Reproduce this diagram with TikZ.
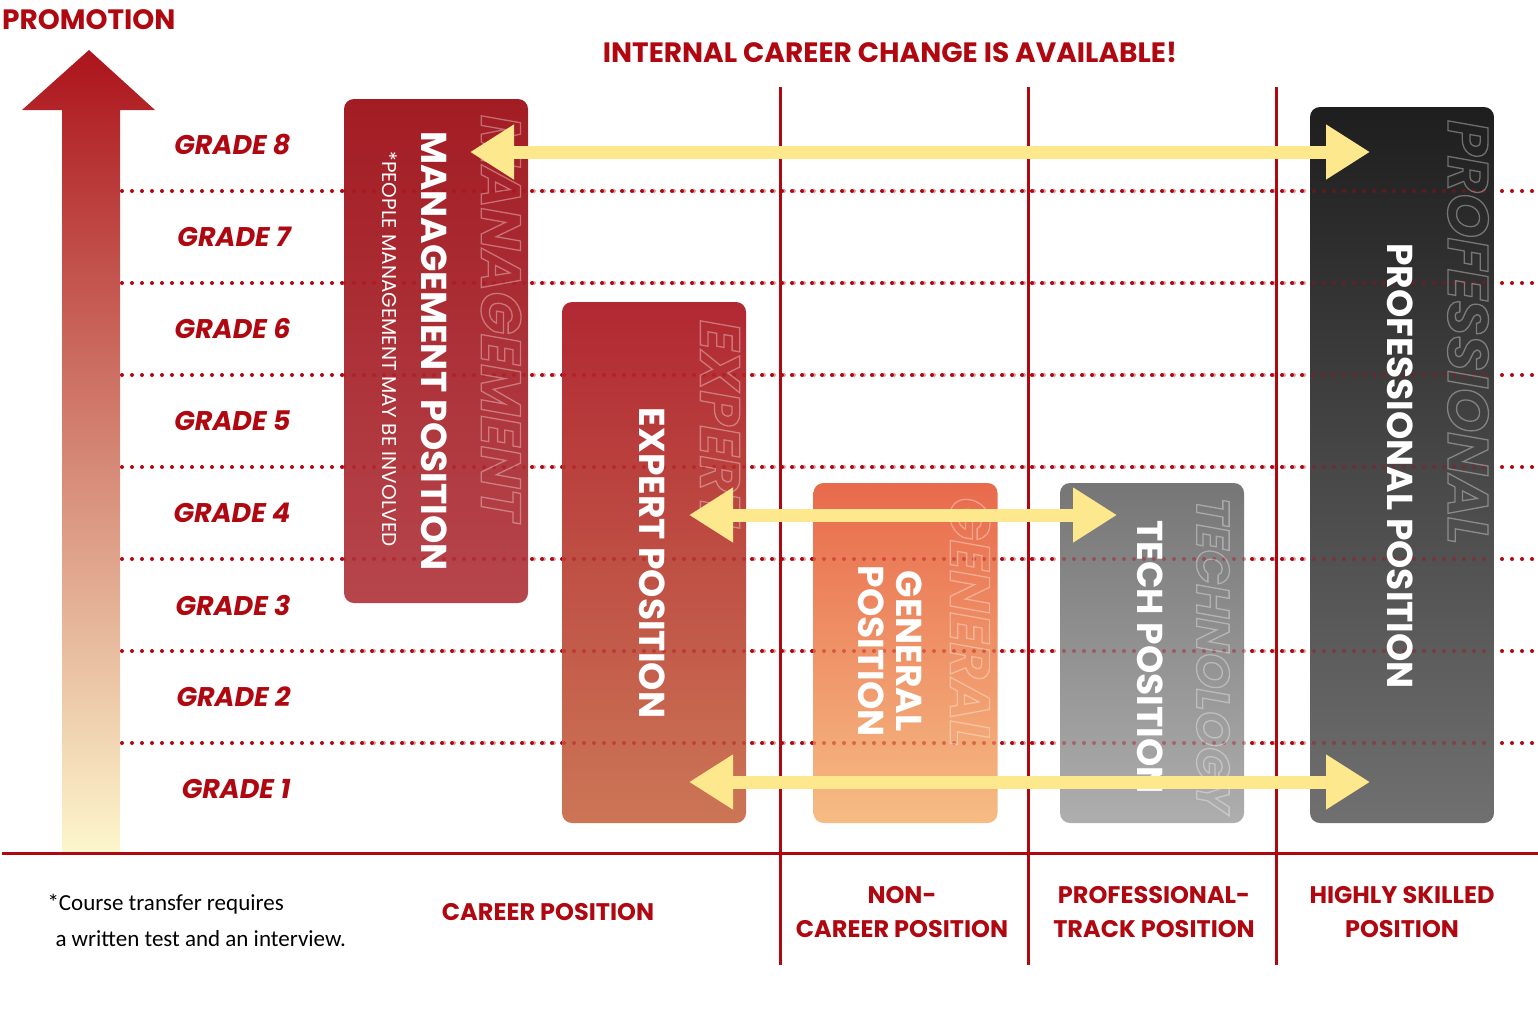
\documentclass[tikz,border=0pt]{standalone}
\usepackage{fontspec}
\setmainfont{Poppins}
\newfontfamily\notefont{Carlito}
\usetikzlibrary{arrows.meta, positioning}

\definecolor{gradered}{RGB}{176, 8, 16}
\definecolor{arrowyellow}{RGB}{253, 232, 142}
\definecolor{promotop}{RGB}{172, 20, 28}
\definecolor{promobot}{RGB}{253, 246, 204}
\definecolor{mgmttop}{RGB}{163, 28, 36}
\definecolor{mgmtbot}{RGB}{182, 70, 76}
\definecolor{experttop}{RGB}{177, 40, 50}
\definecolor{expertbot}{RGB}{204, 118, 86}
\definecolor{generaltop}{RGB}{232, 106, 76}
\definecolor{generalbot}{RGB}{246, 188, 132}
\definecolor{techtop}{RGB}{118, 118, 118}
\definecolor{techbot}{RGB}{174, 174, 174}
\definecolor{proftop}{RGB}{30, 30, 30}
\definecolor{profbot}{RGB}{112, 112, 112}

% hollow letters for the background words
\newcommand{\hollow}[1]{\special{pdf:literal direct 1 Tr 1.3 w}#1\special{pdf:literal direct 0 Tr}}

\begin{document}
\begin{tikzpicture}[x=1pt, y=-1pt,
  posbox/.style={rounded corners=10pt, minimum width=184pt, inner sep=0pt},
  postitle/.style={rotate=-90, text=white, align=center, font=\fontsize{36}{38}\selectfont\bfseries},
  ghost/.style={rotate=-90, anchor=west, inner sep=0pt, text=white, font=\fontsize{56}{60}\selectfont\bfseries\itshape},
  gradelabel/.style={anchor=east, text=gradered, font=\fontsize{27}{30}\selectfont\bfseries\itshape},
  tracklabel/.style={text=gradered, align=center, font=\fontsize{24}{34}\selectfont\bfseries},
  trackline/.style={draw=gradered, line width=3pt},
  gridrow/.style={draw=gradered, line width=4pt, line cap=round, dash pattern=on 0pt off 10pt},
  careerarrow/.style={draw=arrowyellow, line width=13pt, {Triangle[length=44pt,width=52pt]}-{Triangle[length=44pt,width=52pt]}}
]
  \useasboundingbox (0,0) rectangle (1538,1028);

  % Promotion arrow
  \shade[top color=promotop, bottom color=promobot] (62,852) -- (62,110) -- (22,110) -- (89,50) -- (155,110) -- (120,110) -- (120,852) -- cycle;
  \node[anchor=west, inner sep=2pt, text=gradered, font=\fontsize{28}{30}\selectfont\bfseries] (promo) at (0,20) {PROMOTION};
  \node[text=gradered, font=\fontsize{28}{30}\selectfont\bfseries] (headline) at (890,52) {INTERNAL CAREER CHANGE IS AVAILABLE!};

  % Grades
  \foreach \g in {1,...,8}
    \node[gradelabel] (grade\g) at (294,{789-92*(\g-1)}) {GRADE \g};
  \foreach \y in {191,283,...,743}
    \draw[gridrow] (122,\y) -- (1538,\y);

  % Tracks
  \draw[trackline] (2,853) -- (1538,853);
  \foreach \x in {780,1028,1276}
    \draw[trackline] (\x,87) -- (\x,965);

  % Positions
  \node[posbox, minimum height=504pt, top color=mgmttop, bottom color=mgmtbot] (mgmt) at (436,351) {};
  \node[posbox, minimum height=521pt, top color=experttop, bottom color=expertbot] (expert) at (654,562.5) {};
  \node[posbox, minimum height=340pt, top color=generaltop, bottom color=generalbot] (general) at (905.5,653) {};
  \node[posbox, minimum height=340pt, top color=techtop, bottom color=techbot] (tech) at (1152,653) {};
  \node[posbox, minimum height=716pt, top color=proftop, bottom color=profbot] (prof) at (1402,465) {};
  \foreach \y in {191,283,...,743}
    \draw[gridrow, opacity=0.4] (344,\y) -- (1494,\y);

  % Background words
  \begin{scope}[opacity=0.35]
    \node[ghost] (mgmtword) at (501,115) {\hollow{MANAGEMENT}};
    \node[ghost] (expertword) at (720,320) {\hollow{EXPERT}};
    \node[ghost] (generalword) at (970,497) {\hollow{GENERAL}};
    \node[ghost, font=\fontsize{46}{52}\selectfont\bfseries\itshape] (techword) at (1213,497) {\hollow{TECHNOLOGY}};
    \node[ghost, font=\fontsize{57}{60}\selectfont\bfseries\itshape] (profword) at (1468,120) {\hollow{PROFESSIONAL}};
  \end{scope}

  % Position titles
  \node[postitle] (mgmttitle) at (434,351) {MANAGEMENT POSITION};
  \node[rotate=-90, text=white, font=\fontsize{20}{22}\selectfont] (mgmtnote) at (390,349) {*PEOPLE MANAGEMENT MAY BE INVOLVED};
  \node[postitle] (experttitle) at (652,563) {EXPERT POSITION};
  \node[postitle] (generaltitle) at (890,651) {GENERAL\\POSITION};
  \node[postitle, anchor=west] (techtitle) at (1150,517) {TECH POSITION};
  \node[postitle] (proftitle) at (1400,466) {PROFESSIONAL POSITION};

  % Career changes
  \coordinate (mgmtend) at (470,152);
  \coordinate (profend) at (1370,152);
  \coordinate (expertend) at (689,515);
  \coordinate (techend) at (1117,515);
  \coordinate (expertlow) at (689,782);
  \coordinate (proflow) at (1370,782);
  \draw[careerarrow] (mgmtend) -- (profend);
  \draw[careerarrow] (expertend) -- (techend);
  \draw[careerarrow] (expertlow) -- (proflow);

  % Track names
  \node[anchor=west, align=left, font=\notefont\fontsize{23}{36}\selectfont] (note) at (44,920) {*Course transfer requires\\\hspace*{8pt}a written test and an interview.};
  \node[tracklabel] (careerlbl) at (548,912) {CAREER POSITION};
  \node[tracklabel] (noncareerlbl) at (902,912) {NON-\\CAREER POSITION};
  \node[tracklabel] (protracklbl) at (1154,912) {PROFESSIONAL-\\TRACK POSITION};
  \node[tracklabel] (skilledlbl) at (1402,912) {HIGHLY SKILLED\\POSITION};
\end{tikzpicture}
\end{document}
